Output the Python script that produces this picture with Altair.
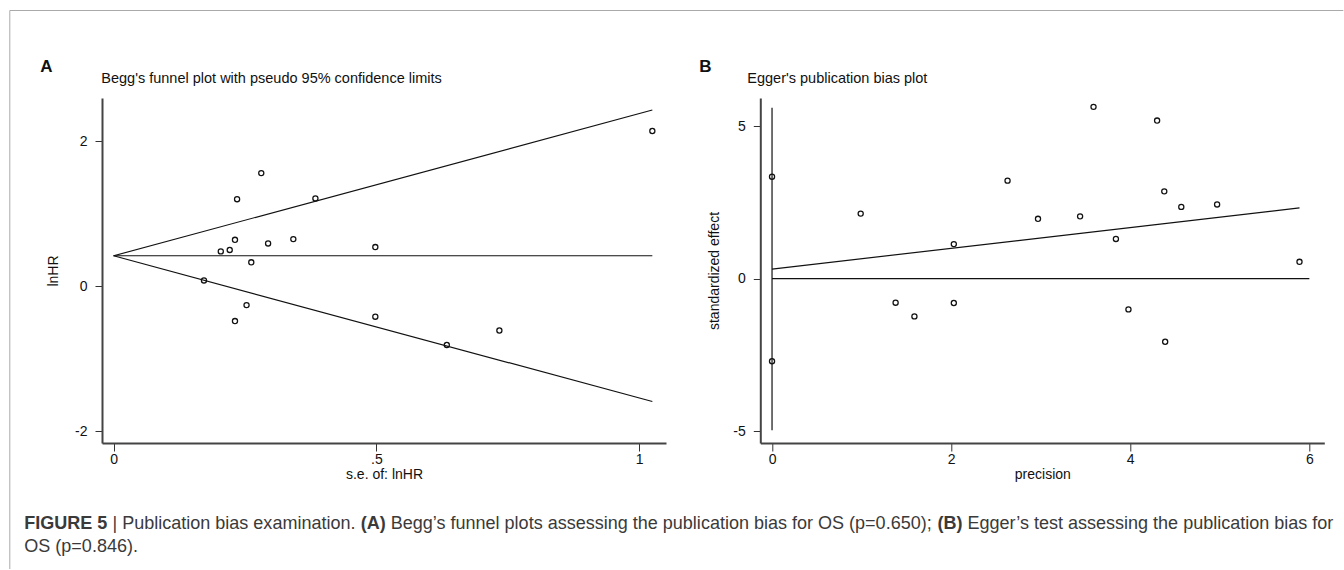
import altair as alt
import pandas as pd

# ---------------- data: panel A (Begg's funnel plot) ----------------
se_lnhr = [1.025, 0.281, 0.235, 0.384, 0.231, 0.294, 0.342, 0.498, 0.204,
           0.221, 0.262, 0.172, 0.253, 0.231, 0.498, 0.734, 0.634]
lnhr = [2.14, 1.56, 1.20, 1.21, 0.64, 0.59, 0.65, 0.54, 0.48,
        0.50, 0.33, 0.08, -0.26, -0.48, -0.42, -0.61, -0.81]
pooled_lnhr = 0.42
z95 = 1.96
A_x_ticks = [0, 0.5, 1]
A_y_ticks = [-2, 0, 2]

# ---------------- data: panel B (Egger's plot) ----------------
precision = [0.0, 0.0, 0.99, 1.38, 1.59, 2.03, 2.03, 2.63, 2.97, 3.44,
             3.59, 3.84, 3.98, 4.30, 4.38, 4.39, 4.57, 4.97, 5.89]
std_effect = [3.34, -2.71, 2.13, -0.79, -1.24, 1.13, -0.80, 3.21, 1.96, 2.04,
              5.63, 1.30, -1.01, 5.18, 2.86, -2.07, 2.35, 2.43, 0.55]
egger_intercept = 0.31
egger_slope = 0.341
egger_intercept_ci = [-4.97, 5.60]
egger_zero_line_end = 6.0
B_x_ticks = [0, 2, 4, 6]
B_y_ticks = [-5, 0, 5]

# ---------------- texts ----------------
title_A = "Begg's funnel plot with pseudo 95% confidence limits"
title_B = "Egger's publication bias plot"
xlab_A, ylab_A = "s.e. of: lnHR", "lnHR"
xlab_B, ylab_B = "precision", "standardized effect"
caption_line1 = [
    ("FIGURE 5", True), (" | Publication bias examination. ", False), ("(A)", True),
    (" Begg\u2019s funnel plots assessing the publication bias for OS (p=0.650); ", False),
    ("(B)", True), (" Egger\u2019s test assessing the publication bias for", False),
]
caption_line2 = [("OS (p=0.846).", False)]

# ---------------- layout constants ----------------
W, H = 564, 345
A_LEFT, TOP = 101.7, 98.0
SPACING = 94.3
FONT = "Liberation Sans, Arial, Helvetica"
INK = "#111111"

# Arial metrics (per 1000 em) for caption layout
REG = {**{c: 556 for c in "abdeghnopqu0123456789"}, "c": 500, "f": 278, "i": 222, "j": 222,
       "k": 500, "l": 222, "m": 833, "r": 333, "s": 500, "t": 278, "v": 500, "w": 722,
       "x": 500, "y": 500, "z": 500, "A": 667, "B": 667, "E": 667, "F": 611, "G": 778,
       "I": 278, "O": 778, "P": 667, "R": 722, "S": 667, "U": 722, " ": 278, ".": 278,
       ",": 278, ";": 278, ":": 278, "(": 333, ")": 333, "=": 584, "|": 260, "\u2019": 222}
BOLD = {**{c: 556 for c in "0123456789"}, "A": 722, "B": 722, "E": 667, "F": 611, "G": 778,
        "I": 278, "R": 722, "U": 722, " ": 278, "(": 333, ")": 333}


def em_width(text, bold):
    table = BOLD if bold else REG
    return sum(table.get(ch, 556) for ch in text) / 1000.0


CAP_X0 = 24.0
CAP_RIGHT = 1333.0
CAP_Y1, CAP_Y2 = 524.0, 547.0
cap_em = sum(em_width(t, b) for t, b in caption_line1)
CAP_FS = (CAP_RIGHT - CAP_X0) / cap_em


def txt(text, x, y, size, bold=False, align="left", color=INK, baseline="middle"):
    return alt.Chart(pd.DataFrame({"t": [text]})).mark_text(
        align=align, baseline=baseline, font=FONT, fontSize=size,
        fontWeight="bold" if bold else "normal", color=color,
    ).encode(x=alt.value(x), y=alt.value(y), text="t:N")


def caption_layers(segments, y):
    layers = []
    cx = CAP_X0 - A_LEFT
    for t, b in segments:
        lead = len(t) - len(t.lstrip(" "))
        cx += em_width(" " * lead, b) * CAP_FS
        body = t.strip(" ")
        layers.append(txt(body, cx, y - TOP, CAP_FS, bold=b, color="#3a3a3a"))
        cx += em_width(t[lead:], b) * CAP_FS
    return layers


def axis_x(values, title, label_expr):
    return alt.Axis(values=values, title=title, grid=False, tickSize=8, labelPadding=1,
                    labelFont=FONT, labelFontSize=14, labelColor=INK, labelFlush=False,
                    labelOverlap=False, labelExpr=label_expr,
                    titleFont=FONT, titleFontSize=14, titleFontWeight="normal", titleColor=INK,
                    titleX=W / 2, titleY=31, titleAlign="center", titleBaseline="middle",
                    domainColor="#444444", domainWidth=2, tickColor="#333333", tickWidth=1)


def axis_y(values, title, title_x):
    return alt.Axis(values=values, title=title, grid=False, tickSize=7, labelPadding=8,
                    labelFont=FONT, labelFontSize=14, labelColor=INK, labelFlush=False,
                    labelOverlap=False, labelExpr="toString(datum.value)",
                    titleFont=FONT, titleFontSize=14, titleFontWeight="normal", titleColor=INK,
                    titleX=title_x, titleY=H / 2, titleAngle=270, titleAlign="center",
                    titleBaseline="middle",
                    domainColor="#444444", domainWidth=2, tickColor="#333333", tickWidth=1)


# ---------------- panel A ----------------
xA = alt.Scale(domain=[-0.022, 1.051], nice=False, zero=False)
yA = alt.Scale(domain=[-2.161, 2.595], nice=False, zero=False)
axA_x = axis_x(A_x_ticks, xlab_A, "datum.value == 0.5 ? '.5' : toString(datum.value)")
axA_y = axis_y(A_y_ticks, ylab_A, -49)

se_max = max(se_lnhr)
segA = pd.DataFrame({
    "x0": [0, 0, 0],
    "x1": [se_max, se_max, se_max],
    "y0": [pooled_lnhr, pooled_lnhr, pooled_lnhr],
    "y1": [pooled_lnhr + z95 * se_max, pooled_lnhr - z95 * se_max, pooled_lnhr],
})
linesA = alt.Chart(segA).mark_rule(color="#111111", strokeWidth=1.2).encode(
    x=alt.X("x0:Q", scale=xA, axis=axA_x), x2="x1:Q",
    y=alt.Y("y0:Q", scale=yA, axis=axA_y), y2="y1:Q")
ptsA = alt.Chart(pd.DataFrame({"x0": se_lnhr, "y0": lnhr})).mark_point(
    shape="circle", filled=False, size=26, color="#111111", strokeWidth=1.3, opacity=1).encode(
    x=alt.X("x0:Q", scale=xA, axis=axA_x), y=alt.Y("y0:Q", scale=yA, axis=axA_y))

# frame of the figure (drawn relative to panel A's plot origin)
frame_l = 9.5 - A_LEFT
frame_t = 10.5 - TOP
frame_top = alt.Chart(pd.DataFrame({"a": [0]})).mark_rule(color="#aaaaaa", strokeWidth=1).encode(
    x=alt.value(frame_l), x2=alt.value(1343 - A_LEFT), y=alt.value(frame_t), y2=alt.value(frame_t))
frame_left = alt.Chart(pd.DataFrame({"a": [0]})).mark_rule(color="#aaaaaa", strokeWidth=1).encode(
    x=alt.value(frame_l), x2=alt.value(frame_l), y=alt.value(frame_t), y2=alt.value(569 - TOP))

panelA = alt.layer(
    frame_top, frame_left, linesA, ptsA,
    txt("A", 40 - A_LEFT, 67 - TOP, 17, bold=True),
    txt(title_A, 101 - A_LEFT, 79 - TOP, 14.5),
    *caption_layers(caption_line1, CAP_Y1),
    *caption_layers(caption_line2, CAP_Y2),
).properties(width=W, height=H)

# ---------------- panel B ----------------
B_LEFT = A_LEFT + W + SPACING
xB = alt.Scale(domain=[-0.131, 6.167], nice=False, zero=False)
yB = alt.Scale(domain=[-5.39, 5.92], nice=False, zero=False)
axB_x = axis_x(B_x_ticks, xlab_B, "toString(datum.value)")
axB_y = axis_y(B_y_ticks, ylab_B, -46)

prec_max = max(precision)
segB = pd.DataFrame({
    "x0": [0, 0, 0],
    "x1": [prec_max, egger_zero_line_end, 0],
    "y0": [egger_intercept, 0, egger_intercept_ci[0]],
    "y1": [egger_intercept + egger_slope * prec_max, 0, egger_intercept_ci[1]],
})
linesB = alt.Chart(segB).mark_rule(color="#111111", strokeWidth=1.2).encode(
    x=alt.X("x0:Q", scale=xB, axis=axB_x), x2="x1:Q",
    y=alt.Y("y0:Q", scale=yB, axis=axB_y), y2="y1:Q")
ptsB = alt.Chart(pd.DataFrame({"x0": precision, "y0": std_effect})).mark_point(
    shape="circle", filled=False, size=26, color="#111111", strokeWidth=1.3, opacity=1).encode(
    x=alt.X("x0:Q", scale=xB, axis=axB_x), y=alt.Y("y0:Q", scale=yB, axis=axB_y))

panelB = alt.layer(
    linesB, ptsB,
    txt("B", 699 - B_LEFT, 67 - TOP, 17, bold=True),
    txt(title_B, 747 - B_LEFT, 79 - TOP, 14.5),
).properties(width=W, height=H)

chart = alt.hconcat(panelA, panelB, spacing=SPACING, bounds="flush").properties(
    padding={"left": 9, "top": 10, "right": 0, "bottom": 0},
    background="white",
).configure_view(stroke=None)

chart.save("out.html", embed_options={"renderer": "svg", "actions": False})
